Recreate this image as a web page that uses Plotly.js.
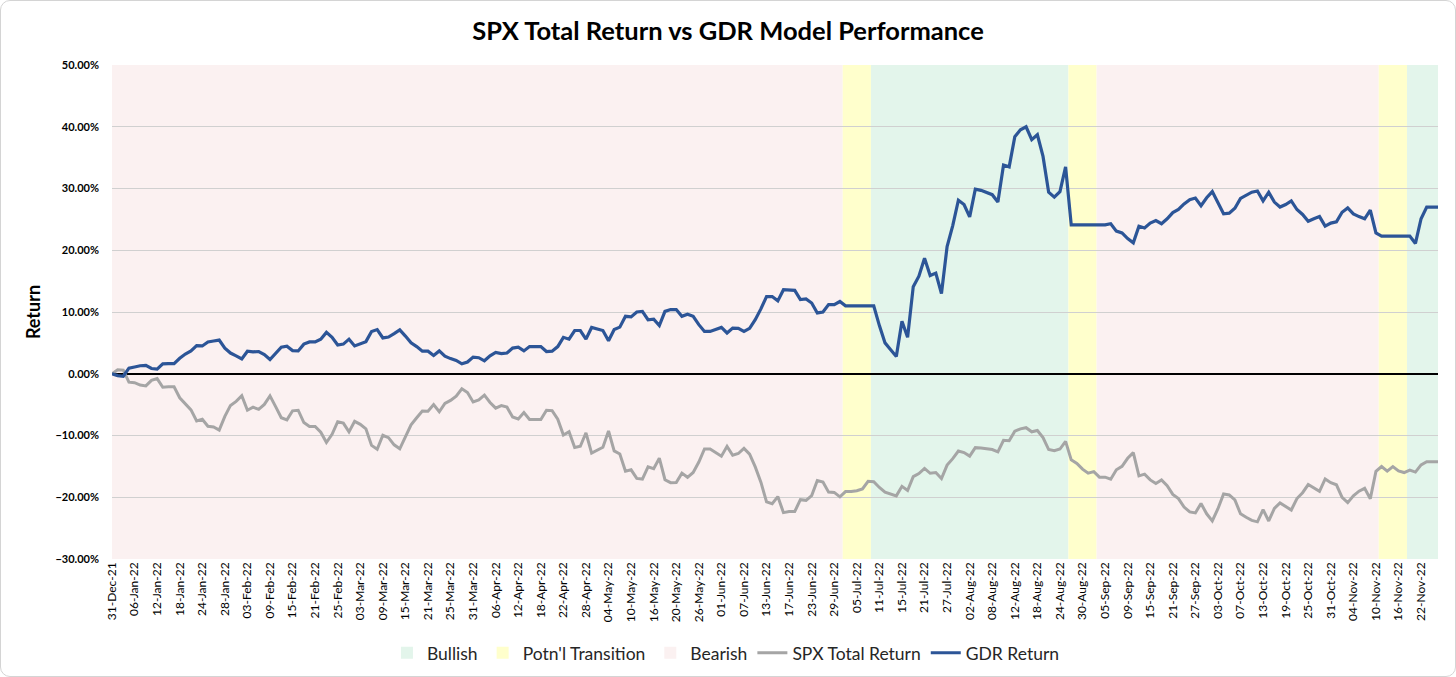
<!DOCTYPE html>
<html>
<head>
<meta charset="utf-8">
<script src="https://cdn.plot.ly/plotly-3.0.1.min.js"></script>
<style>
html,body{margin:0;padding:0;background:#fff;}
#wrap{position:relative;width:1456px;height:677px;overflow:hidden;}
#chart{width:1456px;height:677px;}
#frame{position:absolute;left:0;top:0;width:1456px;height:677px;box-sizing:border-box;border:1px solid #d4d4d4;border-radius:10px;pointer-events:none;}
</style>
</head>
<body>
<div id="wrap"><div id="chart"></div><div id="frame"></div></div>
<script>
// ---- categories: every weekday from 31-Dec-21 to 25-Nov-22 (Excel category axis) ----
const firstDay = '2021-12-31';
const lastDay = '2022-11-25';
const monthNames = ['Jan','Feb','Mar','Apr','May','Jun','Jul','Aug','Sep','Oct','Nov','Dec'];
function weekdayLabels(a, b) {
  const out = [];
  let d = new Date(a + 'T00:00:00Z');
  const e = new Date(b + 'T00:00:00Z');
  while (d <= e) {
    const w = d.getUTCDay();
    if (w !== 0 && w !== 6) {
      out.push(String(d.getUTCDate()).padStart(2, '0') + '-' + monthNames[d.getUTCMonth()] + '-' + String(d.getUTCFullYear()).slice(2));
    }
    d = new Date(d.getTime() + 86400000);
  }
  return out;
}
const dates = weekdayLabels(firstDay, lastDay);

// ---- series (percent) ----
const spxTotalReturn = [
0,0.64,0.59,-1.36,-1.45,-1.84,-1.97,-1.07,-0.79,-2.19,-2.11,-2.11,-3.89,-4.82,-5.86,-7.64,-7.38,-8.50,-8.63,-9.12,
-6.90,-5.13,-4.48,-3.57,-5.91,-5.42,-5.77,-4.97,-3.58,-5.33,-7.12,-7.47,-6.00,-5.91,-7.90,-8.55,-8.55,-9.47,-11.13,-9.80,
-7.77,-7.99,-9.41,-7.71,-8.19,-8.92,-11.60,-12.23,-9.97,-10.35,-11.51,-12.16,-10.27,-8.26,-7.12,-6.03,-6.07,-5.00,-6.16,-4.81,
-4.32,-3.63,-2.44,-3.05,-4.56,-4.23,-3.45,-4.65,-5.57,-5.17,-5.41,-7.00,-7.31,-6.27,-7.41,-7.41,-7.41,-5.92,-5.97,-7.35,
-9.92,-9.40,-11.94,-11.75,-9.56,-12.84,-12.34,-11.91,-9.27,-12.50,-12.99,-15.78,-15.56,-16.95,-17.05,-15.07,-15.39,-13.68,-17.16,-17.64,
-17.62,-16.09,-16.77,-15.98,-14.30,-12.17,-12.17,-12.71,-13.36,-11.76,-13.20,-12.92,-12.08,-13.03,-15.09,-17.56,-20.75,-21.04,-19.89,-22.49,
-22.31,-22.31,-20.40,-20.50,-19.73,-17.28,-17.52,-19.17,-19.22,-19.93,-19.08,-19.08,-18.94,-18.64,-17.42,-17.48,-18.42,-19.17,-19.53,-19.77,
-18.23,-18.90,-16.66,-16.16,-15.33,-16.12,-16.00,-16.97,-14.79,-13.75,-12.52,-12.76,-13.34,-11.97,-12.04,-12.17,-12.28,-12.64,-10.78,-10.84,
-9.29,-8.92,-8.74,-9.40,-9.19,-10.35,-12.27,-12.46,-12.19,-10.95,-13.95,-14.52,-15.45,-16.11,-15.85,-16.75,-16.75,-17.08,-15.55,-14.99,
-13.69,-12.77,-16.53,-16.25,-17.19,-17.78,-17.21,-18.14,-19.53,-20.21,-21.58,-22.38,-22.54,-21.01,-22.68,-23.84,-21.86,-19.47,-19.62,-20.44,
-22.67,-23.24,-23.74,-23.98,-22.00,-23.84,-21.82,-20.92,-21.45,-22.07,-20.21,-19.26,-17.94,-18.54,-19.03,-17.03,-17.65,-17.98,-20.03,-20.87,
-19.78,-19.01,-18.55,-20.24,-15.81,-15.03,-15.78,-15.04,-15.74,-16.00,-15.59,-15.92,-14.76,-14.25,-14.25,-14.27
];
const gdrReturn = [
0,-0.3,-0.4,0.9,1.1,1.3,1.35,0.85,0.75,1.6,1.65,1.65,2.5,3.2,3.7,4.55,4.5,5.15,5.3,5.45,
4.15,3.35,2.9,2.4,3.65,3.55,3.6,3.1,2.3,3.35,4.3,4.45,3.75,3.7,4.8,5.15,5.15,5.6,6.7,5.9,
4.65,4.8,5.6,4.5,4.9,5.2,6.85,7.15,5.8,5.95,6.5,7.1,6.1,5.0,4.4,3.65,3.65,2.95,3.7,2.85,
2.45,2.15,1.6,1.9,2.7,2.6,2.1,2.9,3.45,3.25,3.35,4.15,4.3,3.7,4.4,4.4,4.4,3.6,3.65,4.4,
5.9,5.6,7.0,7.0,5.6,7.5,7.25,7.0,5.35,7.15,7.55,9.3,9.2,10.0,10.1,8.75,8.85,7.8,10.1,10.4,
10.4,9.3,9.65,9.3,7.95,6.85,6.85,7.2,7.5,6.6,7.4,7.35,6.85,7.35,8.75,10.5,12.5,12.5,11.8,13.6,
13.5,13.5,12.0,12.1,11.45,9.85,10.0,11.2,11.2,11.7,11.0,11.0,11.0,11.0,11.0,11.0,7.8,5.0,3.9,2.8,
8.5,5.9,14.1,15.8,18.7,15.9,16.3,13.0,20.6,24.0,28.1,27.4,25.4,29.9,29.7,29.3,29.0,27.8,33.8,33.5,
38.4,39.5,40.0,37.9,38.7,35.2,29.4,28.6,29.5,33.5,24.1,24.1,24.1,24.1,24.1,24.1,24.1,24.3,23.1,22.8,
21.9,21.2,23.9,23.6,24.4,24.8,24.3,25.1,26.1,26.6,27.5,28.2,28.45,27.2,28.5,29.5,27.6,25.9,26.0,26.8,
28.4,28.85,29.4,29.6,28.0,29.4,27.8,27.0,27.4,28.0,26.6,25.8,24.7,25.1,25.45,23.9,24.4,24.6,26.15,26.85,
25.9,25.45,25.1,26.5,22.8,22.3,22.3,22.3,22.3,22.3,22.3,21.1,25.1,27.0,27.0,27.0
];

// ---- regime periods (first and last category of each run) ----
const regimeNames = ['Bullish', "Potn'l Transition", 'Bearish'];
const regimeColors = {'Bullish': '#e3f5eb', "Potn'l Transition": '#ffffcc', 'Bearish': '#fbf1f1'};
const regimeSpans = [
  ['Bearish', '31-Dec-21', '30-Jun-22'],
  ["Potn'l Transition", '01-Jul-22', '07-Jul-22'],
  ['Bullish', '08-Jul-22', '25-Aug-22'],
  ["Potn'l Transition", '26-Aug-22', '01-Sep-22'],
  ['Bearish', '02-Sep-22', '10-Nov-22'],
  ["Potn'l Transition", '11-Nov-22', '17-Nov-22'],
  ['Bullish', '18-Nov-22', '25-Nov-22']
];

const tickLabels = dates.filter((d, i) => i % 4 === 0);
const lastIdx = dates.length - 1;

const shapes = regimeSpans.map(s => ({
  type: 'rect', xref: 'x', yref: 'paper', layer: 'below',
  x0: Math.max(dates.indexOf(s[1]) - 0.5, 0),
  x1: Math.min(dates.indexOf(s[2]) + 0.5, lastIdx),
  y0: 0, y1: 1,
  fillcolor: regimeColors[s[0]], line: {width: 0}
}));

const FONT = 'Lato, "Open Sans", sans-serif';

const traces = regimeNames.map(n => ({
  type: 'bar', name: n, x: [null], y: [null],
  marker: {color: regimeColors[n], line: {width: 0}},
  hoverinfo: 'skip'
}));
traces.push({
  type: 'scatter', mode: 'lines', name: 'SPX Total Return',
  x: dates, y: spxTotalReturn,
  line: {color: '#a5a5a5', width: 3}, hoverinfo: 'skip'
});
traces.push({
  type: 'scatter', mode: 'lines', name: 'GDR Return',
  x: dates, y: gdrReturn,
  line: {color: '#2c5597', width: 3.2}, hoverinfo: 'skip'
});

const layout = {
  width: 1456, height: 677,
  margin: {l: 112, r: 18, t: 65, b: 118, autoexpand: false},
  paper_bgcolor: '#ffffff', plot_bgcolor: 'rgba(0,0,0,0)',
  font: {family: FONT, color: '#000'},
  title: {
    text: 'SPX Total Return vs GDR Model Performance',
    font: {family: FONT, size: 25.5, color: '#000', weight: 700},
    x: 0.5, xref: 'container', xanchor: 'center',
    y: 1 - 31 / 677, yref: 'container', yanchor: 'middle'
  },
  showlegend: true,
  legend: {
    orientation: 'h', x: 0.463, xanchor: 'center', y: -0.19, yanchor: 'middle',
    font: {family: FONT, size: 17.5, color: '#262626'},
    bgcolor: 'rgba(0,0,0,0)', traceorder: 'normal', itemwidth: 30
  },
  barmode: 'overlay',
  xaxis: {
    type: 'category', range: [0, lastIdx], autorange: false,
    tickmode: 'array', tickvals: tickLabels, ticktext: tickLabels,
    tickangle: -90, tickfont: {family: FONT, size: 12, color: '#000'},
    showgrid: false, zeroline: false, showline: false, ticks: '', fixedrange: true,
    automargin: false
  },
  yaxis: {
    range: [-30, 50], autorange: false, dtick: 10, tick0: 0,
    tickformat: '.2f', ticksuffix: '%',
    tickfont: {family: FONT, size: 11, color: '#000', weight: 700},
    ticklabelstandoff: 12,
    gridcolor: '#d0d0d0', gridwidth: 1,
    zeroline: true, zerolinecolor: '#000', zerolinewidth: 2,
    showline: false, ticks: '',
    title: {text: 'Return', font: {family: FONT, size: 18, color: '#000', weight: 700}, standoff: 10},
    fixedrange: true, automargin: false
  },
  shapes: shapes,
  hovermode: false
};

Plotly.newPlot('chart', traces, layout, {displayModeBar: false, staticPlot: true});
</script>
</body>
</html>
